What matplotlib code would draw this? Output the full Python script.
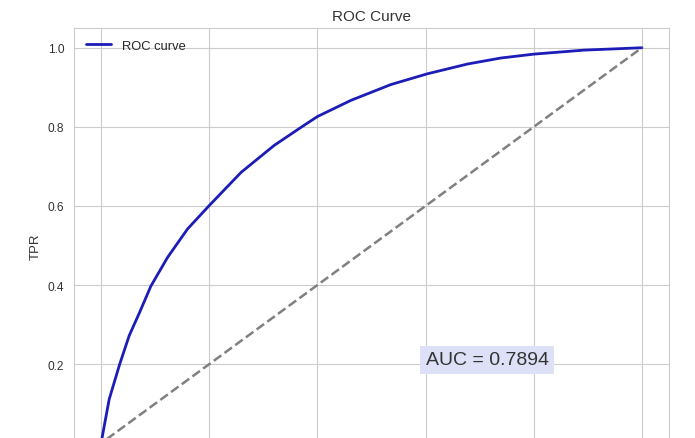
import numpy as np
import matplotlib
matplotlib.use("Agg")
import matplotlib.pyplot as plt
import seaborn as sns

# ROC points
fpr = [0.0, 0.015, 0.034, 0.052, 0.071, 0.092, 0.123, 0.16, 0.2, 0.259,
       0.32, 0.37, 0.4, 0.462, 0.536, 0.603, 0.678, 0.739, 0.801, 0.893, 1.0]
tpr = [0.0, 0.111, 0.198, 0.272, 0.33, 0.397, 0.47, 0.542, 0.601, 0.685,
       0.753, 0.799, 0.826, 0.867, 0.907, 0.934, 0.959, 0.974, 0.984, 0.994, 1.0]
auc = 0.7894
chance = [0.0, 1.0]

sns.set_style("whitegrid")
plt.rcParams["font.family"] = ["Liberation Sans", "DejaVu Sans"]

fig = plt.figure(figsize=(6.95, 4.39), dpi=100)
# axes bottom sits below the saved area, as in the reference crop
ax = fig.add_axes([0.1065, -0.057, 0.856, 0.991])

ax.plot(fpr, tpr, color="#1c1cb8", lw=2, label="ROC curve")
ax.plot(chance, chance, color="gray", lw=1.8, ls="--")
ax.text(0.6, 0.2, f"AUC = {auc:.4f}", fontsize=14, color="#333333",
        bbox=dict(facecolor="#dde0f6", edgecolor="none", pad=4))

ax.set_xlim(-0.05, 1.05)
ax.set_ylim(-0.05, 1.05)
ax.set_yticks([0.0, 0.2, 0.4, 0.6, 0.8, 1.0])
ax.tick_params(labelsize=8.6, colors="#333333")
ax.set_title("ROC Curve", fontsize=11, color="#333333")
ax.set_xlabel("FPR", fontsize=9.5, color="#333333")
ax.set_ylabel("TPR", fontsize=9.5, color="#333333")
ax.legend(loc="upper left", fontsize=9.3, frameon=False)

fig.savefig("out.png", dpi=100)
